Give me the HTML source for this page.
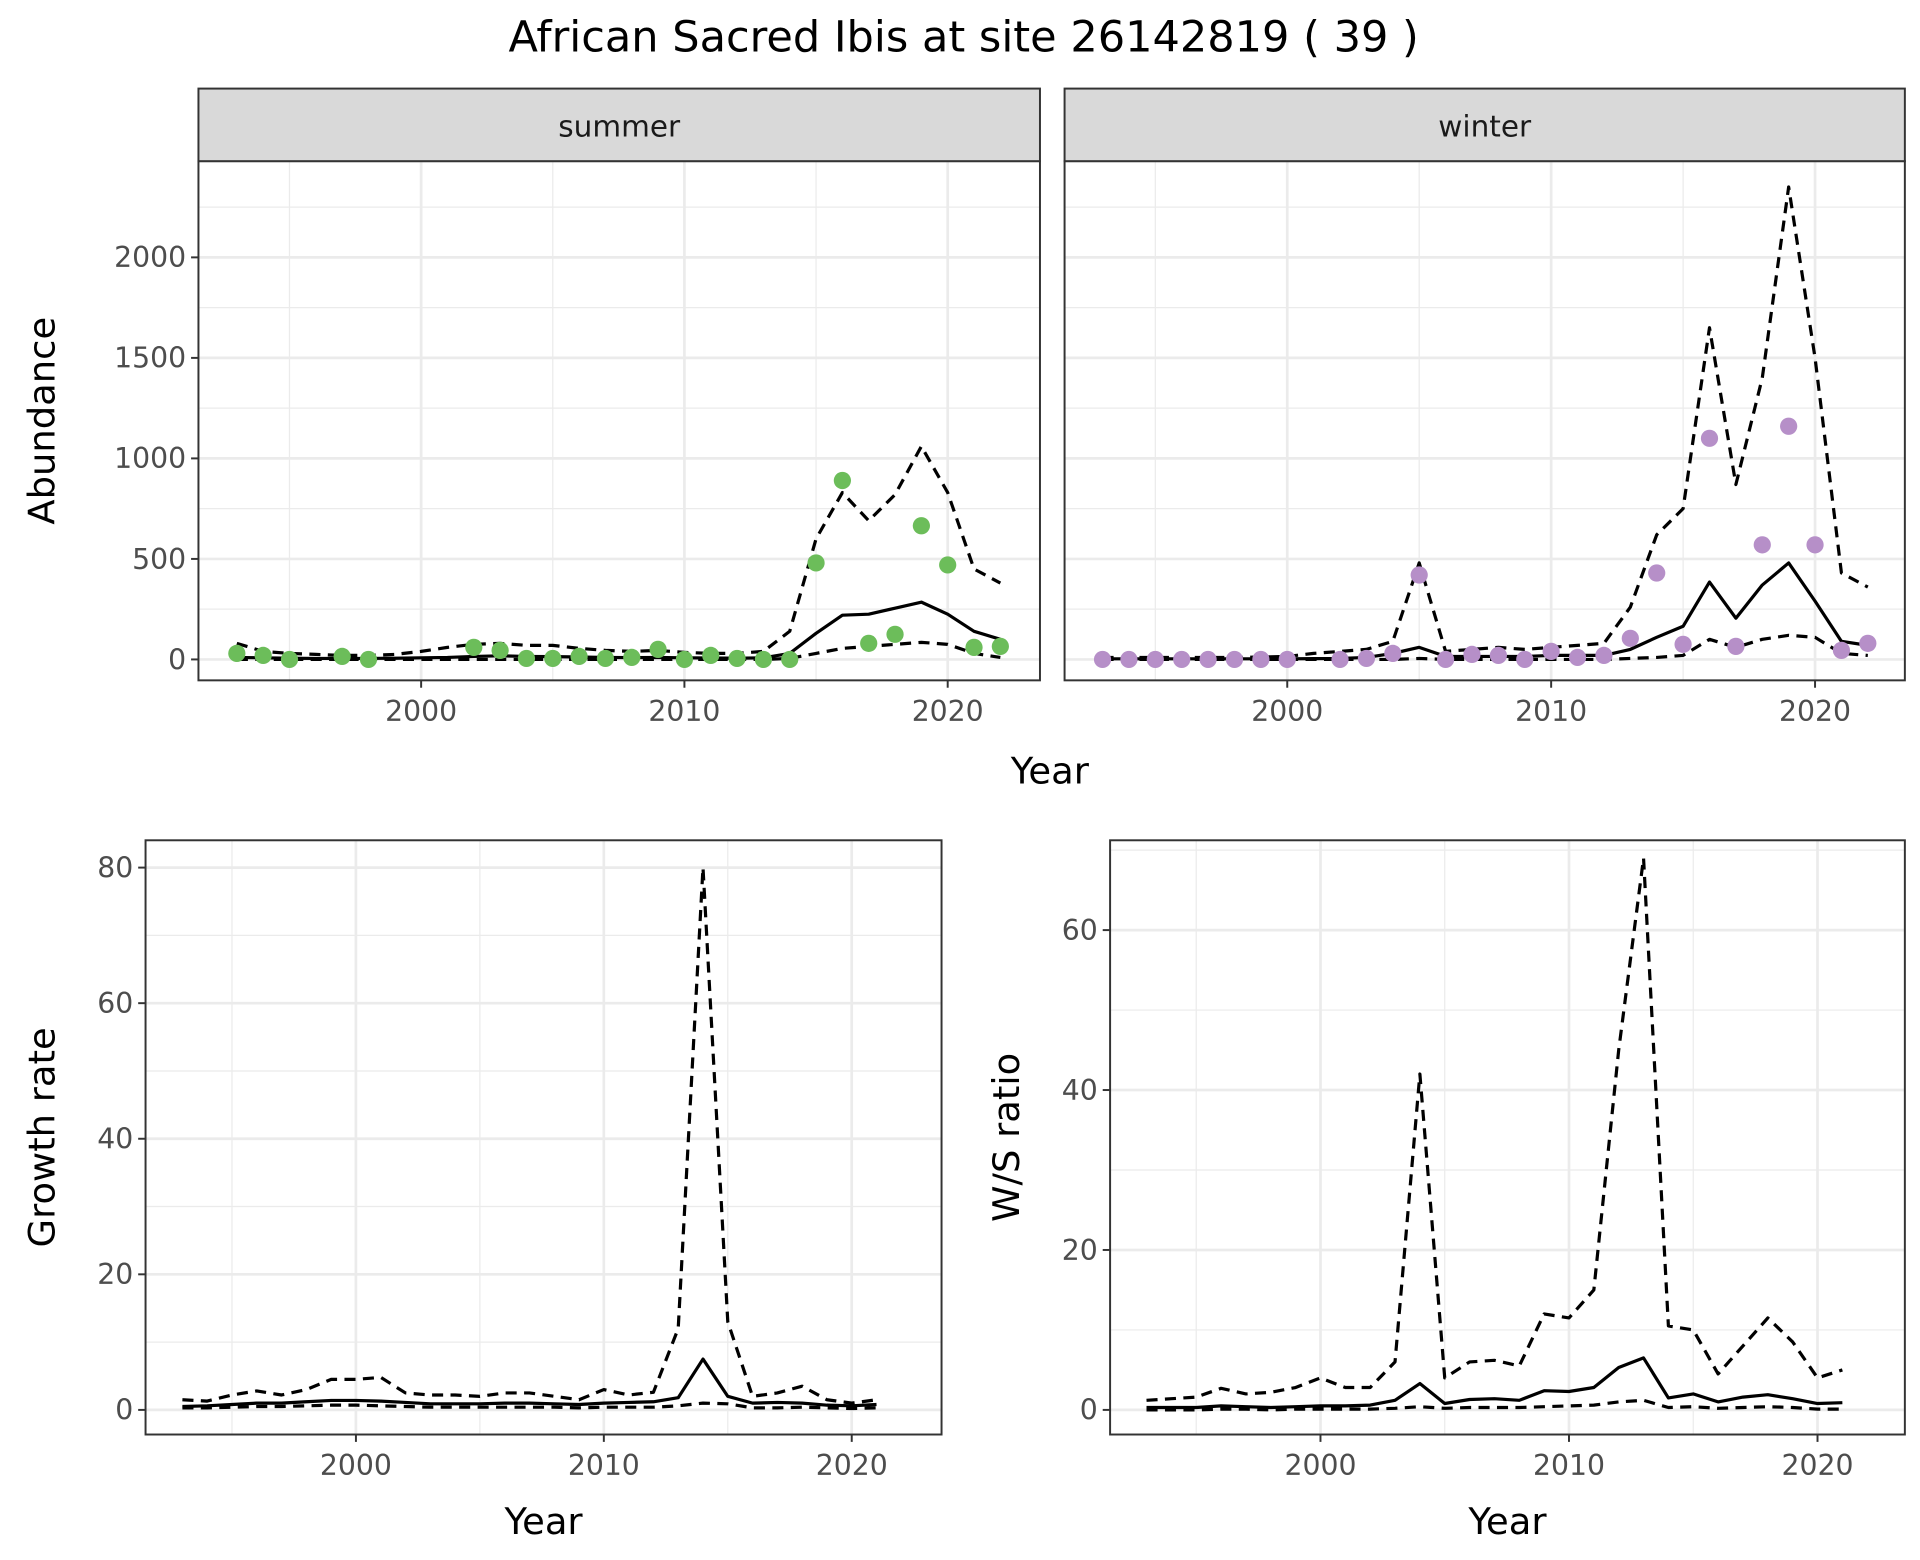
<!DOCTYPE html>
<html><head><meta charset="utf-8">
<style>
html,body{margin:0;padding:0;background:#fff;}
svg{display:block;font-family:"DejaVu Sans","Liberation Sans",sans-serif;}
</style></head>
<body>
<svg id="chart" width="1920" height="1560" viewBox="0 0 1560 1268" xmlns="http://www.w3.org/2000/svg">
<rect width="1560" height="1268" fill="#fff"/>
<text x="783" y="42" font-size="35" text-anchor="middle">African Sacred Ibis at site 26142819 ( 39 )</text>
</svg>
<script>
// ---- data ----
const summerYears = [1993,1994,1995,1997,1998,2002,2003,2004,2005,2006,2007,2008,2009,2010,2011,2012,2013,2014,2015,2016,2017,2018,2019,2020,2021,2022];
const summerCounts = [30,20,0,15,0,60,45,5,5,15,5,10,50,0,20,5,0,0,480,890,80,125,665,470,60,65];
const fitYears = [1993,1994,1995,1996,1997,1998,1999,2000,2001,2002,2003,2004,2005,2006,2007,2008,2009,2010,2011,2012,2013,2014,2015,2016,2017,2018,2019,2020,2021,2022];
const summerMean = [10,8,6,5,5,5,6,8,10,15,18,15,14,12,10,9,10,8,7,6,8,30,130,220,225,255,285,225,140,100];
const summerUpper = [80,40,30,25,20,20,25,40,60,75,80,70,70,55,45,40,45,35,30,30,40,140,600,830,690,820,1060,830,450,380];
const summerLower = [0,0,0,0,0,0,0,0,0,0,0,0,0,0,0,0,0,0,0,0,0,5,30,55,65,75,85,75,30,10];
const winterYears = [1993,1994,1995,1996,1997,1998,1999,2000,2002,2003,2004,2005,2006,2007,2008,2009,2010,2011,2012,2013,2014,2015,2016,2017,2018,2019,2020,2021,2022];
const winterCounts = [0,0,0,0,0,0,0,0,0,5,30,420,0,25,20,0,40,10,20,105,430,75,1100,65,570,1160,570,45,80];
const winterMean = [3,3,3,3,3,3,3,3,4,5,10,30,60,15,15,15,15,20,20,20,50,110,165,385,205,370,480,290,90,70];
const winterUpper = [10,10,10,10,10,10,12,15,30,40,50,90,480,40,50,60,50,60,70,80,260,620,750,1650,870,1400,2350,1500,430,360];
const winterLower = [0,0,0,0,0,0,0,0,0,0,0,0,5,0,0,0,0,0,0,0,5,10,20,100,60,100,120,110,30,20];
const ratioYears = [1993,1994,1995,1996,1997,1998,1999,2000,2001,2002,2003,2004,2005,2006,2007,2008,2009,2010,2011,2012,2013,2014,2015,2016,2017,2018,2019,2020,2021];
const growthMean = [0.5,0.6,0.8,1,1,1.2,1.4,1.4,1.3,1.1,0.9,0.9,0.9,1,1,0.9,0.8,1,1.1,1.2,1.8,7.5,2,1,1.1,1,0.7,0.6,0.8];
const growthUpper = [1.5,1.3,2.2,2.8,2.2,3,4.5,4.5,4.8,2.5,2.2,2.2,2,2.5,2.5,2,1.5,3,2.2,2.6,12,80,13,2,2.5,3.5,1.5,1,1.5];
const growthLower = [0.3,0.3,0.4,0.5,0.5,0.6,0.7,0.7,0.6,0.5,0.4,0.4,0.4,0.4,0.4,0.4,0.3,0.4,0.4,0.4,0.6,1,0.9,0.3,0.3,0.4,0.3,0.2,0.3];
const wsMean = [0.3,0.3,0.3,0.5,0.4,0.3,0.4,0.5,0.5,0.6,1.2,3.3,0.8,1.3,1.4,1.2,2.4,2.3,2.8,5.3,6.5,1.5,2,1,1.6,1.9,1.4,0.8,0.9];
const wsUpper = [1.2,1.4,1.6,2.7,2,2.2,2.8,4,2.8,2.8,6,42,4,6,6.2,5.5,12,11.5,15,45,69,10.5,10,4.5,8,11.5,8.5,4,5];
const wsLower = [0,0,0,0.1,0.1,0,0.1,0.1,0.1,0.1,0.2,0.4,0.2,0.3,0.3,0.3,0.4,0.5,0.6,1,1.2,0.3,0.4,0.2,0.3,0.4,0.3,0.1,0.1];
const abundTicks = [0,500,1000,1500,2000];
const growthTicks = [0,20,40,60,80];
const wsTicks = [0,20,40,60];
const yearTicks = [2000,2010,2020];

const NS = "http://www.w3.org/2000/svg";
const svg = document.getElementById('chart');
function mk(tag, attrs, parent){const e=document.createElementNS(NS,tag);for(const k in attrs)e.setAttribute(k,attrs[k]);(parent||svg).appendChild(e);return e;}

function panel(cfg){
  const g = mk('g',{});
  
  
  const X = v => cfg.x0 + (v - 2000) * cfg.xs;
  const Y = v => cfg.y0 - v * cfg.ys;
  const minorX = [1995,2005,2015];
  minorX.forEach(v=>{const l=mk('line',{x1:X(v),x2:X(v),y1:cfg.top,y2:cfg.bottom,stroke:'#ebebeb','stroke-width':1},g);
    });
  for(let i=0;i<cfg.ticks.length;i++){
    const mid = cfg.ticks[i] + (cfg.ticks[1]-cfg.ticks[0])/2;
    if (Y(mid) > cfg.top) {const l=mk('line',{x1:cfg.left,x2:cfg.right,y1:Y(mid),y2:Y(mid),stroke:'#ebebeb','stroke-width':1},g);
      }
  }
  yearTicks.forEach(v=>{const l=mk('line',{x1:X(v),x2:X(v),y1:cfg.top,y2:cfg.bottom,stroke:'#ebebeb','stroke-width':2.2},g);
    });
  cfg.ticks.forEach(v=>{const l=mk('line',{x1:cfg.left,x2:cfg.right,y1:Y(v),y2:Y(v),stroke:'#ebebeb','stroke-width':2.2},g);
    });
  const lineSet = [[cfg.upper,'9,6'],[cfg.lower,'9,6'],[cfg.mean,null]];
  lineSet.forEach(([arr,dash],i)=>{
    const pts = arr.map((v,j)=>X(cfg.lineYears[j])+','+Y(v)).join(' ');
    const a={points:pts,fill:'none',stroke:'#000','stroke-width':2.6,'stroke-linejoin':'round'};
    if(dash)a['stroke-dasharray']=dash;
    const p=mk('polyline',a,g);
    
    
  });
  if(cfg.pts){
    cfg.pts.forEach((v,j)=>{const c=mk('circle',{cx:X(cfg.ptYears[j]),cy:Y(v),r:7,fill:cfg.color},g);
      });
  }
  const fr = mk('rect',{x:cfg.left,y:cfg.top,width:cfg.right-cfg.left,height:cfg.bottom-cfg.top,fill:'none',stroke:'#333','stroke-width':1.6},g);
  
  yearTicks.forEach(v=>{
    const t=mk('line',{x1:X(v),x2:X(v),y1:cfg.bottom,y2:cfg.bottom+6,stroke:'#333','stroke-width':1.6},g);
    
    const tx=mk('text',{x:X(v),y:cfg.bottom+33,'font-size':23,fill:'#4d4d4d','text-anchor':'middle'},g);tx.textContent=v;
    
  });
  if(cfg.yLabels){
    cfg.ticks.forEach(v=>{
      const t=mk('line',{x1:cfg.left-6,x2:cfg.left,y1:Y(v),y2:Y(v),stroke:'#333','stroke-width':1.6},g);
      
      const tx=mk('text',{x:cfg.left-10,y:Y(v)+8,'font-size':23,fill:'#4d4d4d','text-anchor':'end'},g);tx.textContent=v;
      
    });
  }
  if(cfg.strip){
    const s=mk('rect',{x:cfg.left,y:72,width:cfg.right-cfg.left,height:59,fill:'#d9d9d9',stroke:'#333','stroke-width':1.6},g);
    
    const st=mk('text',{x:(cfg.left+cfg.right)/2,y:111,'font-size':24,fill:'#1a1a1a','text-anchor':'middle'},g);st.textContent=cfg.strip;
    
  }
  if(cfg.ytitle){
    const yt=mk('text',{x:0,y:0,'font-size':30,'text-anchor':'middle',transform:`translate(${cfg.ytx},${(cfg.top+cfg.bottom)/2}) rotate(-90)`},g);yt.textContent=cfg.ytitle;
    
  }
  if(cfg.xtitle){
    const xt=mk('text',{x:(cfg.left+cfg.right)/2,y:1247,'font-size':30,'text-anchor':'middle'},g);xt.textContent='Year';
    
  }
}

panel({name:'summer-panel',left:161,right:845,top:131,bottom:553,x0:342,xs:21.4,y0:536,ys:81.7/500,ticks:abundTicks,
  lineYears:fitYears,mean:summerMean,upper:summerUpper,lower:summerLower,pts:summerCounts,ptYears:summerYears,color:'#6cbd5a',
  yLabels:true,strip:'summer',ytitle:'Abundance',ytx:44});
panel({name:'winter-panel',left:865,right:1548,top:131,bottom:553,x0:1046,xs:21.45,y0:536,ys:81.7/500,ticks:abundTicks,
  lineYears:fitYears,mean:winterMean,upper:winterUpper,lower:winterLower,pts:winterCounts,ptYears:winterYears,color:'#b68fc8',
  yLabels:false,strip:'winter'});
panel({name:'growth-rate-panel',left:118,right:765,top:683,bottom:1166,x0:289,xs:20.15,y0:1146,ys:5.51,ticks:growthTicks,
  lineYears:ratioYears,mean:growthMean,upper:growthUpper,lower:growthLower,yLabels:true,ytitle:'Growth rate',ytx:44,xtitle:true});
panel({name:'ws-ratio-panel',left:902,right:1548,top:683,bottom:1166,x0:1073,xs:20.2,y0:1146,ys:6.5,ticks:wsTicks,
  lineYears:ratioYears,mean:wsMean,upper:wsUpper,lower:wsLower,yLabels:true,ytitle:'W/S ratio',ytx:828,xtitle:true});
const yr=document.createElementNS(NS,'text');
yr.setAttribute('x',853);yr.setAttribute('y',637);yr.setAttribute('font-size',30);yr.setAttribute('text-anchor','middle');
yr.textContent='Year';


svg.appendChild(yr);
</script>
</body></html>
